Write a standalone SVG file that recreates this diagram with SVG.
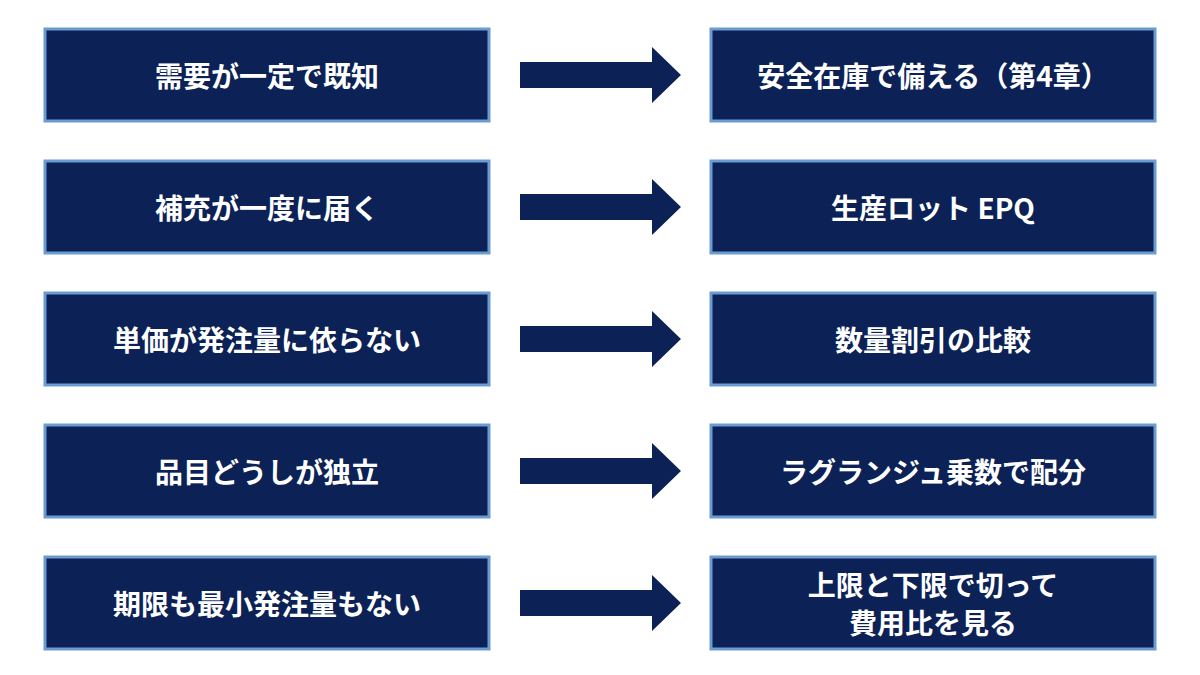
<svg xmlns="http://www.w3.org/2000/svg" width="1200" height="675" viewBox="0 0 1200 675">
<style>
.b{fill:#0c2256;stroke:#6a9bd1;stroke-width:3}
.t{fill:#fff;font-family:"Noto Sans CJK JP","Noto Sans",sans-serif;font-size:28px;font-weight:bold;text-anchor:middle;dominant-baseline:central}
.a{fill:#0c2256}
</style>
<defs><path id="ar" class="a" d="M520,-13 H652 V-28 L681,0 L652,28 V13 H520 Z"/></defs>
<rect width="1200" height="675" fill="#fff"/>
<g id="connectors">
<use href="#ar" y="75"/><use href="#ar" y="207"/><use href="#ar" y="339"/><use href="#ar" y="471"/><use href="#ar" y="603"/>
</g>
<g id="l1"><rect class="b" x="45" y="29" width="444" height="92"/><text class="t" x="267" y="75">需要が一定で既知</text></g>
<g id="r1"><rect class="b" x="711" y="29" width="444" height="92"/><text class="t" x="933" y="75">安全在庫で備える（第4章）</text></g>
<g id="l2"><rect class="b" x="45" y="161" width="444" height="92"/><text class="t" x="267" y="207">補充が一度に届く</text></g>
<g id="r2"><rect class="b" x="711" y="161" width="444" height="92"/><text class="t" x="933" y="207">生産ロット EPQ</text></g>
<g id="l3"><rect class="b" x="45" y="293" width="444" height="92"/><text class="t" x="267" y="339">単価が発注量に依らない</text></g>
<g id="r3"><rect class="b" x="711" y="293" width="444" height="92"/><text class="t" x="933" y="339">数量割引の比較</text></g>
<g id="l4"><rect class="b" x="45" y="425" width="444" height="92"/><text class="t" x="267" y="471">品目どうしが独立</text></g>
<g id="r4"><rect class="b" x="711" y="425" width="444" height="92"/><text class="t" x="933" y="471">ラグランジュ乗数で配分</text></g>
<g id="l5"><rect class="b" x="45" y="557" width="444" height="92"/><text class="t" x="267" y="603">期限も最小発注量もない</text></g>
<g id="r5"><rect class="b" x="711" y="557" width="444" height="92"/><text class="t" x="933" y="584">上限と下限で切って</text><text class="t" x="933" y="622">費用比を見る</text></g>
</svg>
